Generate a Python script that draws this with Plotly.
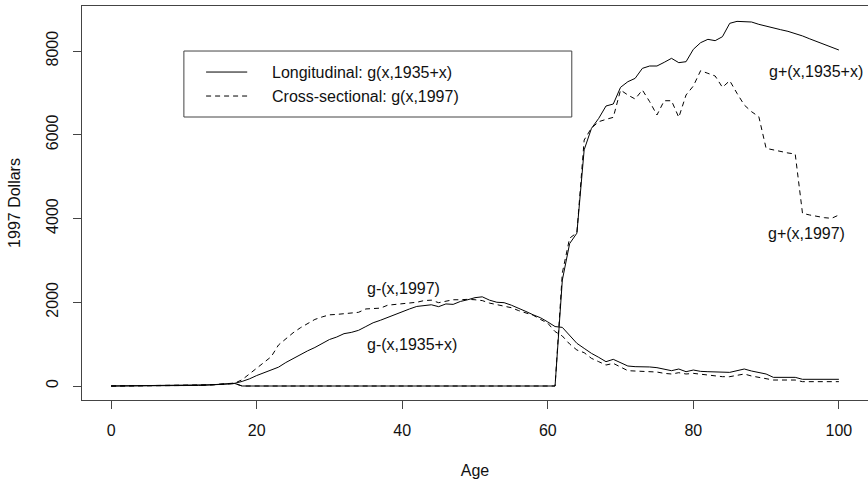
import plotly.graph_objects as go

ages = list(range(0, 101))

# g-(x,1935+x)  longitudinal, solid
gm_long = [0, 0, 0, 0, 0, 0, 0, 2, 3, 5, 7, 10, 14, 20, 28, 38, 50, 65,
           110, 170, 250, 320, 390, 450, 560, 660, 760, 840, 920, 1020, 1110,
           1170, 1250, 1280, 1330, 1420, 1510, 1570, 1640, 1710, 1780,
           1840, 1900, 1920, 1940, 1895, 1960, 1950, 2020, 2060, 2110,
           2130, 2050, 2000, 1990, 1930, 1860, 1780, 1700, 1630, 1530,
           1420, 1400, 1218, 1019, 899, 780, 685, 581, 637, 557,
           478, 462, 462, 455, 438, 398, 366, 406, 342, 382,
           350, 342, 334, 318, 326, 366, 406, 358, 326, 287,
           207, 207, 207, 207, 160, 160, 160, 160, 160, 160]

# g-(x,1997)  cross-sectional, dashed
gm_cross = [0, 0, 0, 0, 0, 0, 0, 2, 3, 5, 7, 10, 14, 20, 28, 38, 50, 70,
            150, 290, 420, 560, 700, 980, 1130, 1270, 1390, 1500, 1590, 1650, 1700,
            1710, 1730, 1740, 1760, 1840, 1850, 1860, 1930, 1950, 1970,
            1990, 2000, 2040, 2050, 1990, 2030, 2060, 2060, 2070, 2060,
            2040, 1980, 1940, 1910, 1870, 1800, 1750, 1690, 1590, 1500,
            1300, 1194, 1003, 860, 796, 661, 581, 501, 541, 446,
            366, 358, 350, 350, 334, 302, 287, 318, 287, 302,
            279, 255, 239, 223, 223, 263, 287, 239, 207, 160,
            143, 143, 143, 143, 104, 104, 104, 104, 104, 104]

# g+(x,1935+x)  longitudinal, solid
gp_long = ([0, 1, 2, 3, 4, 5, 6, 8, 10, 12, 14, 17, 20, 25, 30, 38, 48, 60]
           + [0] * 44
           + [2530, 3400, 3650, 5640, 6152, 6392, 6687, 6734, 7133,
              7267, 7347, 7586, 7642, 7642, 7730, 7825, 7722, 7745, 8040,
              8199, 8279, 8247, 8342, 8661, 8708, 8708, 8693, 8637, 8589,
              8549, 8509, 8470, 8422, 8360, 8290, 8225, 8160, 8090, 8024])

# g+(x,1997)  cross-sectional, dashed
gp_cross = ([0, 1, 2, 3, 4, 5, 6, 8, 10, 12, 14, 17, 20, 25, 30, 38, 48, 60]
            + [0] * 44
            + [2700, 3530, 3660, 5875, 6160, 6312, 6368, 6416, 7068,
               6950, 6854, 7068, 6790, 6472, 6813, 6813, 6416, 6950, 7164,
               7530, 7467, 7403, 7133, 7291, 6990, 6710, 6551, 6431, 5676,
               5636, 5596, 5565, 5540, 4124, 4084, 4044, 4020, 4005, 4084])

x_ticks = [0, 20, 40, 60, 80, 100]
y_ticks = [0, 2000, 4000, 6000, 8000]

legend_labels = ["Longitudinal: g(x,1935+x)", "Cross-sectional: g(x,1997)"]
curve_labels = ["g+(x,1935+x)", "g+(x,1997)", "g-(x,1997)", "g-(x,1935+x)"]
curve_label_pos = [(96.8, 7506), (95.5, 3640), (40.2, 2340), (41.4, 1000)]

FONT = "Liberation Sans, Arial, Helvetica, sans-serif"
DASH = "5px,4px"

fig = go.Figure()
for name, ys, dash in [("g-(x,1935+x)", gm_long, "solid"),
                       ("g-(x,1997)", gm_cross, DASH),
                       ("g+(x,1935+x)", gp_long, "solid"),
                       ("g+(x,1997)", gp_cross, DASH)]:
    fig.add_trace(go.Scatter(x=ages, y=ys, mode="lines", name=name,
                             line=dict(color="black", width=1, dash=dash),
                             showlegend=False, hoverinfo="x+y"))

# curve labels
for txt, (xx, yy) in zip(curve_labels, curve_label_pos):
    fig.add_annotation(x=xx, y=yy, text=txt, showarrow=False,
                       xanchor="center", yanchor="middle",
                       font=dict(family=FONT, size=16, color="#111"))

# hand-drawn R-style legend box
fig.add_shape(type="rect", x0=10, x1=63.3, y0=6424, y1=8000,
              line=dict(color="#444", width=1), fillcolor="white", layer="below")
fig.add_shape(type="line", x0=13.05, x1=18.7, y0=7498, y1=7498,
              line=dict(color="black", width=1))
fig.add_shape(type="line", x0=13.05, x1=18.7, y0=6925, y1=6925,
              line=dict(color="black", width=1, dash=DASH))
fig.add_annotation(x=21.84, y=7498, text=legend_labels[0], showarrow=False,
                   xanchor="left", yanchor="middle",
                   font=dict(family=FONT, size=16, color="#111"))
fig.add_annotation(x=21.84, y=6925, text=legend_labels[1], showarrow=False,
                   xanchor="left", yanchor="middle",
                   font=dict(family=FONT, size=16, color="#111"))

axis_common = dict(showgrid=False, zeroline=False, showline=True, mirror=True,
                   linecolor="#444", linewidth=1, ticks="outside", ticklen=8,
                   tickcolor="#444", tickwidth=1,
                   tickfont=dict(family=FONT, size=16, color="#111"))

fig.update_xaxes(range=[-4, 104], tickvals=x_ticks,
                 ticktext=[str(v) for v in x_ticks], ticklabelstandoff=8,
                 title=dict(text="Age", font=dict(family=FONT, size=16, color="#111"),
                            standoff=26),
                 **axis_common)
fig.update_yaxes(range=[-334, 9075], tickvals=y_ticks,
                 ticktext=[str(v) for v in y_ticks], tickangle=-90,
                 ticklabelstandoff=9,
                 title=dict(text="1997 Dollars", font=dict(family=FONT, size=16, color="#111"),
                            standoff=18),
                 **axis_common)

fig.update_layout(width=868, height=482,
                  margin=dict(l=82, r=0, t=6, b=82),
                  paper_bgcolor="white", plot_bgcolor="white",
                  showlegend=False)

fig.write_html("out.html",
               config={"displayModeBar": False},
               post_script="document.body.style.margin='0';"
                           "document.body.style.overflow='hidden';")
